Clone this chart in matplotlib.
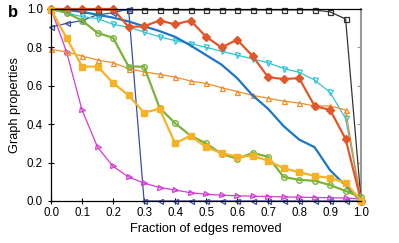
import matplotlib
matplotlib.use("Agg")
import matplotlib.pyplot as plt

plt.rcParams['font.family'] = ['Liberation Sans', 'DejaVu Sans']

frac = [0.0, 0.05, 0.1, 0.15, 0.2, 0.25, 0.3, 0.35, 0.4, 0.45, 0.5,
        0.55, 0.6, 0.65, 0.7, 0.75, 0.8, 0.85, 0.9, 0.95, 1.0]

black_sq = [0.995, 0.995, 0.995, 0.995, 0.995, 0.995, 0.995, 0.995, 0.995, 0.995, 0.995,
            0.995, 0.995, 0.995, 0.995, 0.995, 0.995, 0.995, 0.985, 0.948, 0.0]
navy_tri = [0.906, 0.925, 0.94, 0.97, 0.98, 1.0, 0.0, 0.0, 0.0, 0.0, 0.0,
            0.0, 0.0, 0.0, 0.0, 0.0, 0.0, 0.0, 0.0, 0.0, 0.0]
magenta_tri = [1.0, 0.776, 0.473, 0.28, 0.18, 0.125, 0.093, 0.07, 0.057, 0.043, 0.035,
               0.03, 0.027, 0.025, 0.023, 0.021, 0.02, 0.018, 0.017, 0.015, 0.01]
cyan_tri = [1.0, 0.98, 0.96, 0.95, 0.92, 0.905, 0.88, 0.855, 0.835, 0.82, 0.80,
            0.78, 0.76, 0.74, 0.72, 0.69, 0.67, 0.63, 0.565, 0.43, 0.0]
orange_tri = [0.79, 0.776, 0.755, 0.734, 0.72, 0.69, 0.672, 0.66, 0.645, 0.625, 0.612,
              0.59, 0.57, 0.55, 0.535, 0.52, 0.51, 0.495, 0.495, 0.474, 0.0]
blue_line = [1.0, 0.995, 0.985, 0.97, 0.955, 0.935, 0.91, 0.885, 0.855, 0.81, 0.76,
             0.71, 0.64, 0.55, 0.48, 0.39, 0.32, 0.28, 0.16, 0.08, 0.0]
red_dia = [1.0, 1.0, 1.0, 1.0, 1.0, 0.906, 0.91, 0.94, 0.92, 0.94, 0.855,
           0.80, 0.84, 0.755, 0.645, 0.635, 0.64, 0.495, 0.474, 0.323, 0.0]
green_circ = [1.0, 0.98, 0.94, 0.875, 0.85, 0.70, 0.70, 0.485, 0.405, 0.34, 0.30,
              0.245, 0.22, 0.25, 0.23, 0.125, 0.11, 0.105, 0.083, 0.052, 0.02]
gold_sq = [0.995, 0.85, 0.70, 0.70, 0.615, 0.55, 0.46, 0.48, 0.30, 0.34, 0.28,
           0.25, 0.23, 0.235, 0.21, 0.17, 0.15, 0.13, 0.12, 0.095, 0.0]

yticks = [0.0, 0.2, 0.4, 0.6, 0.8, 1.0]

fig = plt.figure(figsize=(3.99, 2.43), dpi=100)
ax = fig.add_axes([0.128, 0.173, 0.777, 0.79])

# right-hand ticks: grey, pointing inward
ax_r = ax.twinx()
ax_r.set_ylim(0, 1)
ax_r.set_yticks(yticks)
ax_r.tick_params(axis='y', direction='in', length=3, width=0.8, color='#999999', labelright=False)
for side in ['left', 'bottom', 'top']:
    ax_r.spines[side].set_visible(False)
ax_r.spines['right'].set_color('#999999')
ax_r.spines['right'].set_linewidth(1.5)
ax.set_zorder(ax_r.get_zorder() + 1)
ax.patch.set_visible(False)

thin = dict(lw=0.9, ms=3.6, mfc='none', mew=0.9, clip_on=False)
thick = dict(lw=1.6, ms=4.0, mew=1.0, clip_on=False)

ax.plot(frac, black_sq, color='#333333', marker='s', **thin)
ax.plot(frac, navy_tri, color='#3a4ea6', marker='<', **thin)
ax.plot(frac, magenta_tri, color='#d23ad2', marker='>', **thin)
ax.plot(frac, cyan_tri, color='#2ec4d4', marker='v', **thin)
ax.plot(frac, orange_tri, color='#f08e2a', marker='^', **thin)
ax.plot(frac, blue_line, color='#1b76c6', lw=1.6)
ax.plot(frac, red_dia, color='#e0582a', marker='D', **thick)
ax.plot(frac, green_circ, color='#7cb23a', marker='o', mfc='none', **thick)
ax.plot(frac, gold_sq, color='#f5b226', marker='s', **thick)

ax.set_xlim(0, 1)
ax.set_ylim(0, 1)
ax.set_xticks([0.0, 0.1, 0.2, 0.3, 0.4, 0.5, 0.6, 0.7, 0.8, 0.9, 1.0])
ax.set_yticks(yticks)
ax.xaxis.set_major_formatter(matplotlib.ticker.FormatStrFormatter('%.1f'))
ax.yaxis.set_major_formatter(matplotlib.ticker.FormatStrFormatter('%.1f'))
ax.tick_params(axis='both', direction='inout', length=4, width=0.8, labelsize=8.3, pad=2)
ax.tick_params(axis='y', pad=4)
for side in ['left', 'bottom', 'top']:
    ax.spines[side].set_linewidth(0.9)
ax.spines['right'].set_visible(False)

ax.set_xlabel('Fraction of edges removed', fontsize=9.2, labelpad=3)
ax.set_ylabel('Graph properties', fontsize=9.2, labelpad=4)
fig.text(0.02, 0.93, 'b', fontsize=12, fontweight='bold')

fig.savefig('out.png', dpi=100)
